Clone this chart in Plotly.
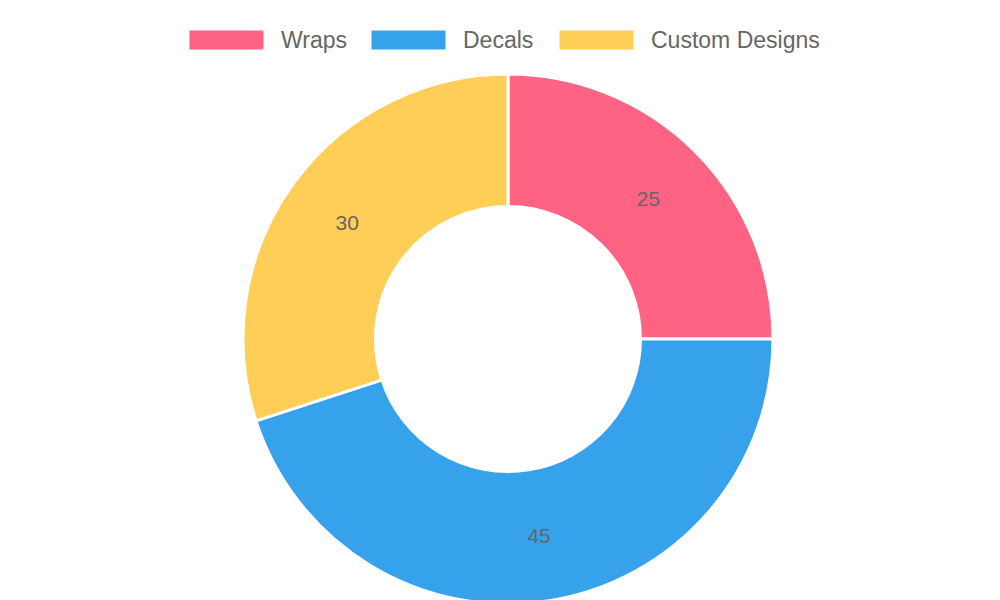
import plotly.graph_objects as go

labels = ["Wraps", "Decals", "Custom Designs"]
values = [25, 45, 30]
colors = ["#FF6384", "#36A2EB", "#FFCE56"]

fig = go.Figure(go.Pie(
    labels=labels,
    values=values,
    hole=0.5,
    sort=False,
    direction="clockwise",
    rotation=0,
    marker=dict(colors=colors, line=dict(color="white", width=3)),
    textinfo="value",
    textposition="inside",
    insidetextorientation="horizontal",
    textfont=dict(family="Liberation Sans, Arial", size=21, color="#666666"),
    domain=dict(x=[0.235, 0.765], y=[0.0067, 0.89]),
    showlegend=False,
    hoverinfo="label+value",
))

# legend drawn by hand to get the wide colour boxes
box_x = [181, 363, 551]
for lab, col, x0 in zip(labels, colors, box_x):
    fig.add_shape(type="rect", xref="paper", yref="paper",
                  x0=x0 / 1000, x1=(x0 + 75) / 1000,
                  y0=1 - 42 / 600, y1=1 - 22 / 600,
                  fillcolor=col, line=dict(color="white", width=1))
    fig.add_annotation(xref="paper", yref="paper", x=(x0 + 90) / 1000, y=1 - 32 / 600,
                       text=lab, showarrow=False, xanchor="left", yanchor="middle",
                       font=dict(family="Liberation Sans, Arial", size=23, color="#666666"))

fig.update_layout(
    width=1000, height=600,
    margin=dict(l=0, r=0, t=0, b=0),
    paper_bgcolor="white",
    plot_bgcolor="white",
)

fig.write_html("out.html")
